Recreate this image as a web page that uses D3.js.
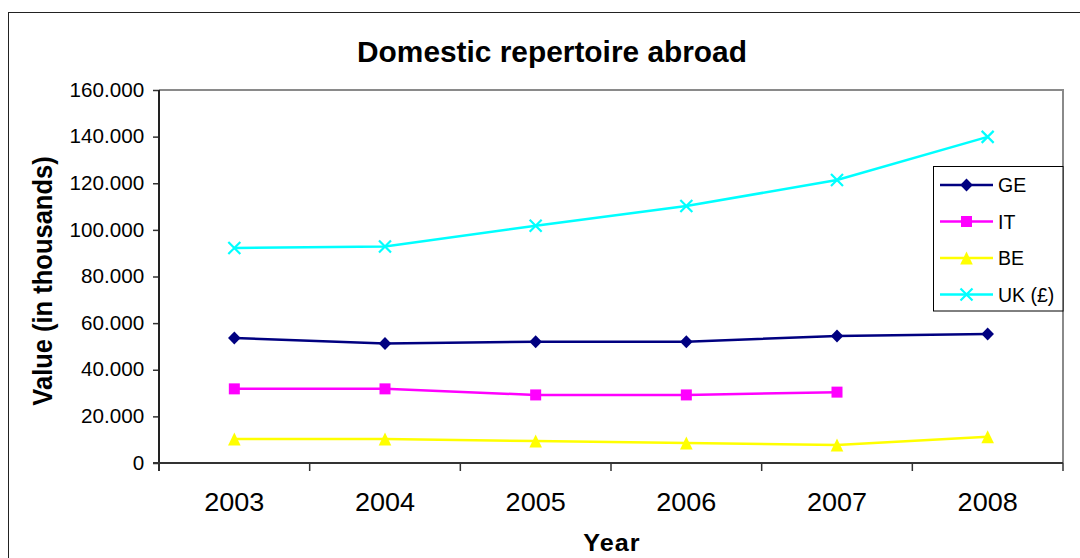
<!DOCTYPE html>
<html>
<head>
<meta charset="utf-8">
<script src="https://cdn.jsdelivr.net/npm/d3@7"></script>
<style>
  html, body { margin: 0; padding: 0; background: #fff; }
  svg { display: block; font-family: "Liberation Sans", Arial, sans-serif; }
</style>
</head>
<body>
<svg id="chart" width="1080" height="558"></svg>
<script>
// Years on the category axis
const years = ["2003", "2004", "2005", "2006", "2007", "2008"];

// Values in thousands per series (null = no data)
const geValues = [53.6, 51.3, 52.0, 52.0, 54.5, 55.3];
const itValues = [31.8, 31.8, 29.2, 29.2, 30.4, null];
const beValues = [10.3, 10.3, 9.4, 8.6, 7.7, 11.3];
const ukValues = [92.2, 92.9, 101.8, 110.2, 121.4, 139.9];

const seriesNames = ["GE", "IT", "BE", "UK (£)"];
const seriesColors = ["#000080", "#FF00FF", "#FFFF00", "#00FFFF"];
const seriesSymbols = ["diamond", "square", "triangle", "cross"];

// Value-axis tick labels
const yTicks = [0, 20, 40, 60, 80, 100, 120, 140, 160];
const yTickLabels = ["0", "20.000", "40.000", "60.000", "80.000", "100.000", "120.000", "140.000", "160.000"];

const svg = d3.select("#chart");

// Plot area
const plot = { left: 159, top: 90, right: 1063, bottom: 463 };

const x = d3.scaleBand().domain(years).range([plot.left, plot.right]);
const y = d3.scaleLinear().domain([0, 160]).range([plot.bottom, plot.top]);

// Outer chart frame
svg.append("rect")
  .attr("x", 8.5).attr("y", 12.5)
  .attr("width", 1100).attr("height", 600)
  .attr("fill", "#fff").attr("stroke", "#222").attr("stroke-width", 1);

// Plot area frame (top and right edges in gray)
svg.append("path")
  .attr("d", `M${plot.left},${plot.top} H${plot.right} V${plot.bottom}`)
  .attr("fill", "none").attr("stroke", "#8a8a8a").attr("stroke-width", 2);

// Title
svg.append("text")
  .attr("transform", "translate(552,62) scale(1.03,1)")
  .attr("text-anchor", "middle")
  .attr("font-size", 29).attr("font-weight", "bold")
  .text("Domestic repertoire abroad");

// Y axis
const yAxis = d3.axisLeft(y)
  .tickValues(yTicks)
  .tickFormat((d, i) => yTickLabels[i])
  .tickSize(6).tickPadding(8);
const gy = svg.append("g")
  .attr("transform", `translate(${plot.left},0)`)
  .call(yAxis);
gy.select(".domain").remove();
gy.selectAll(".tick line").attr("stroke", "#333").attr("stroke-width", 1.5);
gy.selectAll(".tick text")
  .attr("font-family", "Liberation Sans, Arial, sans-serif")
  .attr("font-size", 19.5).attr("fill", "#000")
  .attr("transform", "scale(1.06,1)");
svg.append("line")
  .attr("x1", plot.left).attr("x2", plot.left)
  .attr("y1", plot.top).attr("y2", plot.bottom + 8)
  .attr("stroke", "#222").attr("stroke-width", 2);

// X axis: tick marks on category boundaries, labels centered in bands
const xBounds = years.map(d => x(d)).concat([plot.right]);
svg.append("line")
  .attr("x1", plot.left - 6).attr("x2", plot.right)
  .attr("y1", plot.bottom).attr("y2", plot.bottom)
  .attr("stroke", "#333").attr("stroke-width", 2);
svg.append("g").selectAll("line").data(xBounds).join("line")
  .attr("x1", d => d).attr("x2", d => d)
  .attr("y1", plot.bottom).attr("y2", plot.bottom + 8)
  .attr("stroke", "#333").attr("stroke-width", 1.5);
svg.append("g").selectAll("text").data(years).join("text")
  .attr("transform", d => `translate(${x(d) + x.bandwidth() / 2},511) scale(1.06,1)`)
  .attr("text-anchor", "middle")
  .attr("font-size", 25.5)
  .text(d => d);

// Axis titles
svg.append("text")
  .attr("transform", "translate(612,551) scale(1.05,1)")
  .attr("text-anchor", "middle")
  .attr("font-size", 24).attr("font-weight", "bold")
  .attr("letter-spacing", 1)
  .text("Year");
svg.append("text")
  .attr("transform", "translate(52,281) rotate(-90) scale(1,1.06)")
  .attr("text-anchor", "middle")
  .attr("font-size", 25.5).attr("font-weight", "bold")
  .text("Value (in thousands)");

// Marker shapes
function marker(sel, kind, color) {
  if (kind === "diamond") {
    sel.append("path").attr("d", "M0,-6.5 L6.3,0 L0,6.5 L-6.3,0 Z").attr("fill", color);
  } else if (kind === "square") {
    sel.append("rect").attr("x", -5.5).attr("y", -5.5).attr("width", 11).attr("height", 11).attr("fill", color);
  } else if (kind === "triangle") {
    sel.append("path").attr("d", "M0,-6.5 L6.3,6.5 L-6.3,6.5 Z").attr("fill", color);
  } else {
    sel.append("path").attr("d", "M-6,-6 L6,6 M-6,6 L6,-6")
      .attr("stroke", color).attr("stroke-width", 2.2).attr("fill", "none");
  }
}

const allSeries = [geValues, itValues, beValues, ukValues];
const cx = d => x(d) + x.bandwidth() / 2;

allSeries.forEach((vals, si) => {
  const pts = years.map((yr, i) => ({ yr, v: vals[i] }));
  const line = d3.line()
    .defined(d => d.v != null)
    .x(d => cx(d.yr))
    .y(d => y(d.v));
  svg.append("path")
    .datum(pts)
    .attr("d", line)
    .attr("fill", "none")
    .attr("stroke", seriesColors[si])
    .attr("stroke-width", 2.5);
  pts.filter(d => d.v != null).forEach(d => {
    const g = svg.append("g").attr("transform", `translate(${cx(d.yr)},${y(d.v)})`);
    marker(g, seriesSymbols[si], seriesColors[si]);
  });
});

// Legend
const legend = svg.append("g");
legend.append("rect")
  .attr("x", 933.5).attr("y", 166.5).attr("width", 129.5).attr("height", 144.5)
  .attr("fill", "#fff").attr("stroke", "#000").attr("stroke-width", 1);
const rowY = [185, 221.5, 258, 294.5];
seriesNames.forEach((name, i) => {
  const row = legend.append("g").attr("transform", `translate(0,${rowY[i]})`);
  row.append("line")
    .attr("x1", 940).attr("x2", 993).attr("y1", 0).attr("y2", 0)
    .attr("stroke", seriesColors[i]).attr("stroke-width", 2.5);
  const m = row.append("g").attr("transform", "translate(966.5,0)");
  marker(m, seriesSymbols[i], seriesColors[i]);
  row.append("text")
    .attr("x", 998).attr("y", 7)
    .attr("font-size", 19.5)
    .text(name);
});
</script>
</body>
</html>
